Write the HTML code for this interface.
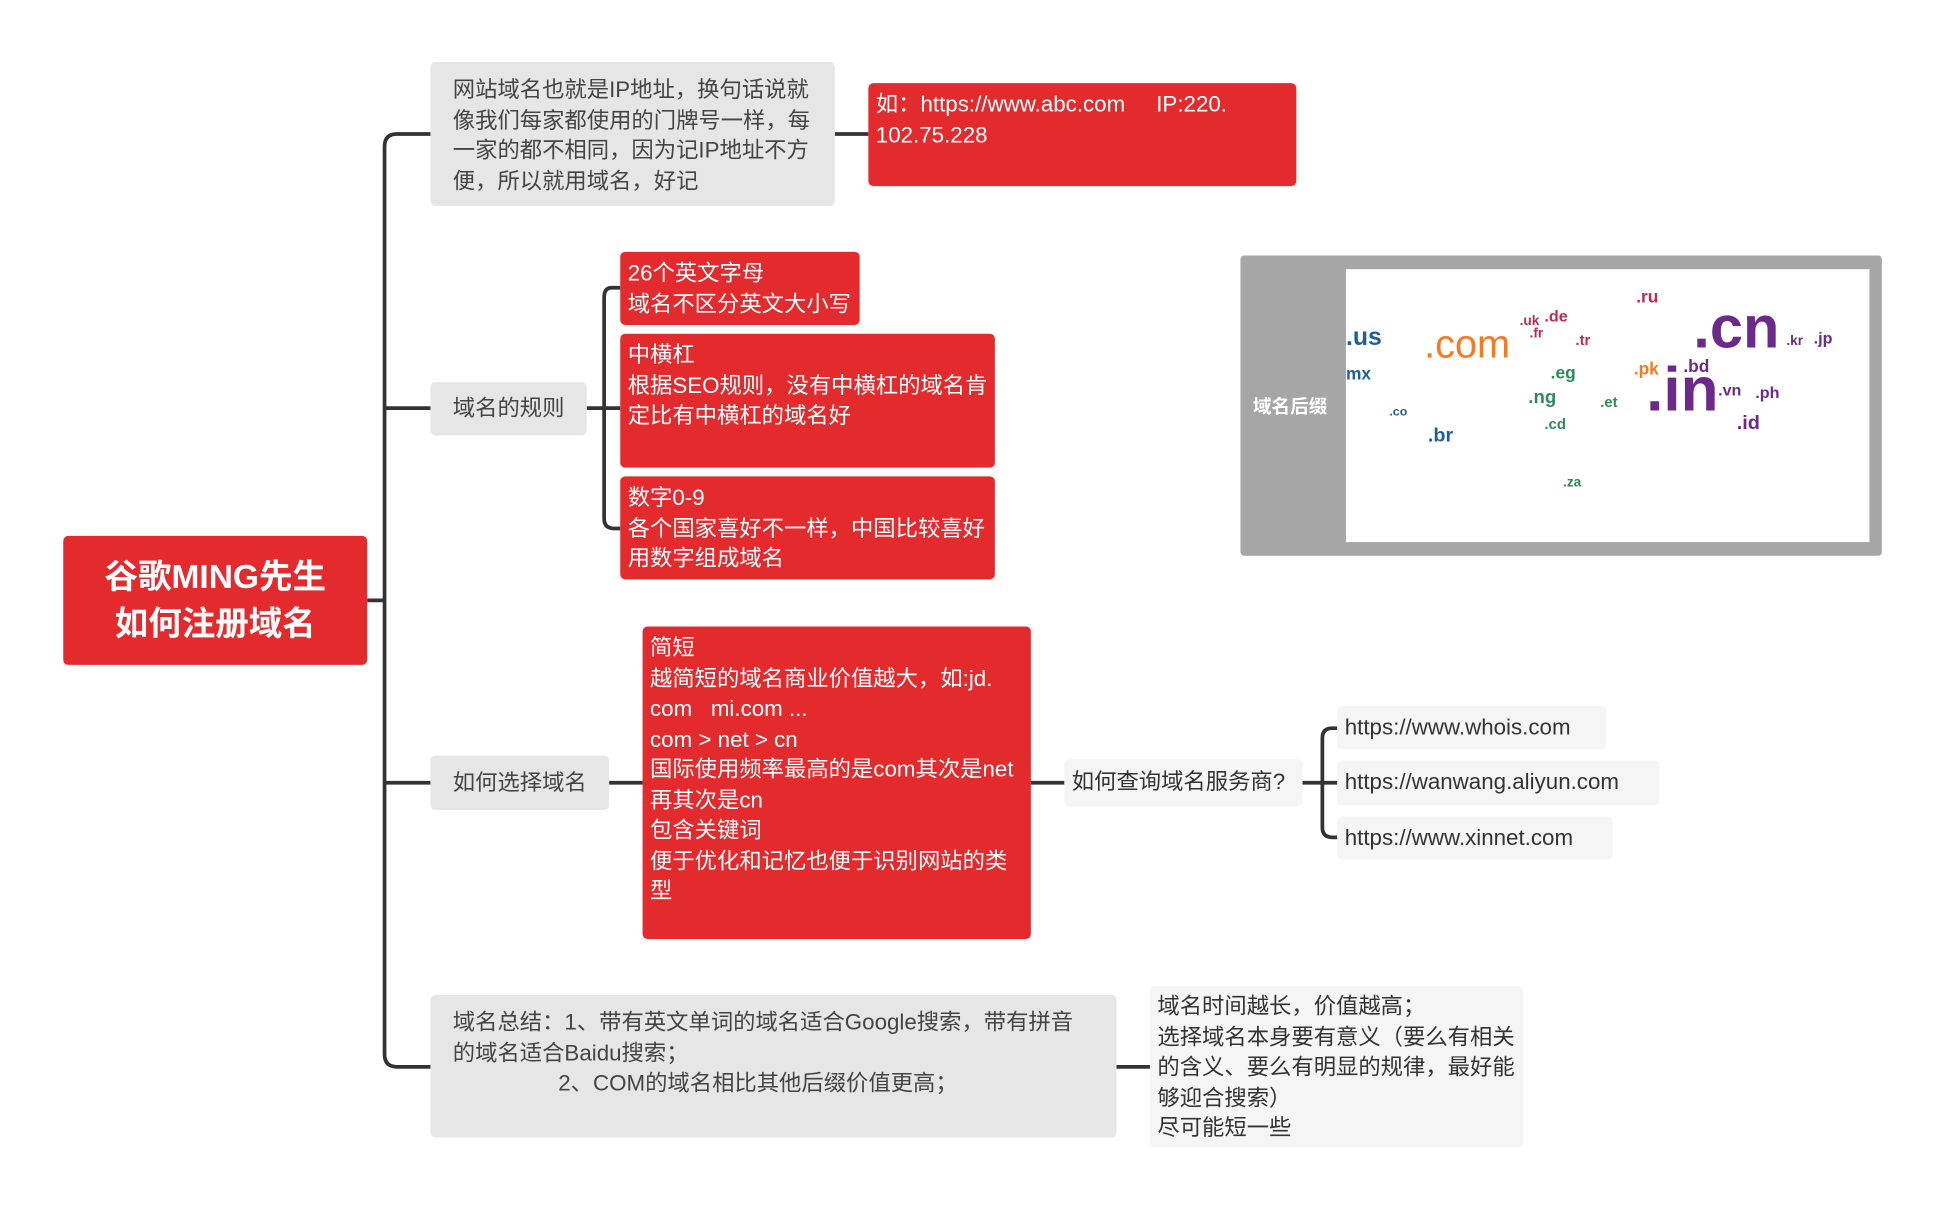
<!DOCTYPE html>
<html><head><meta charset="utf-8"><style>
html,body{margin:0;padding:0;background:#fff;width:1943px;height:1211px;overflow:hidden}
#w{position:absolute;left:0;top:0;width:1560px;height:972px;transform:scale(1.2405);transform-origin:0 0;font-family:"Liberation Sans","Noto Sans CJK SC",sans-serif}
.n{position:absolute;box-sizing:border-box;border-radius:4px;font-size:18px;line-height:24.5px}
.g{background:#e6e6e6;color:#444}
.l{background:#f5f5f5;color:#333}
.r{background:#e32b2e;color:#fff}
.m{position:absolute;font-weight:bold;font-family:"Liberation Sans",sans-serif}
</style></head><body><div id="w">
<svg width="1560" height="972" style="position:absolute;left:0;top:0">
<g fill="none" stroke="#333" stroke-width="3">
<path d="M296 484H310"/>
<path d="M347 108H320Q310 108 310 118V850Q310 860 320 860H347"/>
<path d="M310 329H347M310 631H347"/>
<path d="M673 108H700"/>
<path d="M473 329H487"/>
<path d="M500 232H493Q487 232 487 240V418Q487 426 495 426H500M487 329H500"/>
<path d="M491 631H518M831 631H858M1050 631H1078"/>
<path d="M1078 587H1074Q1066 587 1066 595V667Q1066 675 1074 675H1078"/>
<path d="M900 860H927"/>
</g></svg>
<div class="n r" style="left:51px;top:432px;width:245px;height:104px;font-size:27px;font-weight:bold;line-height:38px;text-align:center;padding-top:14px">谷歌MING先生<br>如何注册域名</div>
<div class="n g" style="left:347px;top:50px;width:326px;height:116px;padding:10px 16px 0 18px">网站域名也就是IP地址，换句话说就像我们每家都使用的门牌号一样，每一家的都不相同，因为记IP地址不方便，所以就用域名，好记</div>
<div class="n r" style="left:700px;top:67px;width:345px;height:83px;padding:5px 6px">如：https://www.abc.com&nbsp;&nbsp;&nbsp;&nbsp; IP:220.<br>102.75.228</div>
<div class="n g" style="left:347px;top:308px;width:126px;height:43px;padding:9px 0 0 18px">域名的规则</div>
<div class="n r" style="left:500px;top:203px;width:193px;height:59px;padding:5px 6px">26个英文字母<br>域名不区分英文大小写</div>
<div class="n r" style="left:500px;top:269px;width:302px;height:108px;padding:5px 6px">中横杠<br>根据SEO规则，没有中横杠的域名肯定比有中横杠的域名好</div>
<div class="n r" style="left:500px;top:384px;width:302px;height:83px;padding:5px 6px">数字0-9<br>各个国家喜好不一样，中国比较喜好用数字组成域名</div>
<div style="position:absolute;left:1000px;top:206px;width:517px;height:242px;background:#a6a6a6;border-radius:3px">
<div style="position:absolute;left:10px;top:111px;color:#fff;font-weight:bold;font-size:15px">域名后缀</div>
<div style="position:absolute;left:85px;top:11px;width:422px;height:220px;background:#fff;overflow:hidden">
<span class="m" style="left:0;top:44px;color:#1f5f99;font-size:20px">.us</span>
<span class="m" style="left:0;top:76px;color:#1f5f99;font-size:14px">mx</span>
<span class="m" style="left:63px;top:42px;color:#f47b20;font-size:32px;font-weight:normal">.com</span>
<span class="m" style="left:280px;top:20px;color:#6b2a8a;font-size:48px">.cn</span>
<span class="m" style="left:242px;top:72px;color:#6b2a8a;font-size:50px;line-height:50px">.in</span>
<span class="m" style="left:234px;top:14px;color:#c0294f;font-size:14px">.ru</span>
<span class="m" style="left:160px;top:30px;color:#c0294f;font-size:13px">.de</span>
<span class="m" style="left:140px;top:36px;color:#c0294f;font-size:11px">.uk</span>
<span class="m" style="left:148px;top:46px;color:#c0294f;font-size:11px">.fr</span>
<span class="m" style="left:185px;top:50px;color:#c0294f;font-size:12px">.tr</span>
<span class="m" style="left:165px;top:75px;color:#2e8b57;font-size:14px">.eg</span>
<span class="m" style="left:147px;top:95px;color:#2e8b57;font-size:15px">.ng</span>
<span class="m" style="left:205px;top:100px;color:#2e8b57;font-size:12px">.et</span>
<span class="m" style="left:160px;top:118px;color:#2e8b57;font-size:12px">.cd</span>
<span class="m" style="left:175px;top:166px;color:#2e8b57;font-size:11px">.za</span>
<span class="m" style="left:232px;top:72px;color:#f47b20;font-size:14px">.pk</span>
<span class="m" style="left:272px;top:70px;color:#6b2a8a;font-size:14px">.bd</span>
<span class="m" style="left:300px;top:90px;color:#6b2a8a;font-size:13px">.vn</span>
<span class="m" style="left:330px;top:92px;color:#6b2a8a;font-size:13px">.ph</span>
<span class="m" style="left:315px;top:116px;color:#6b2a8a;font-size:16px">.id</span>
<span class="m" style="left:355px;top:52px;color:#6b2a8a;font-size:11px">.kr</span>
<span class="m" style="left:377px;top:48px;color:#6b2a8a;font-size:13px">.jp</span>
<span class="m" style="left:66px;top:126px;color:#1f5f99;font-size:16px">.br</span>
<span class="m" style="left:35px;top:110px;color:#1f5f99;font-size:10px">.co</span>
</div></div>
<div class="n g" style="left:347px;top:609px;width:144px;height:44px;padding:10px 0 0 18px">如何选择域名</div>
<div class="n r" style="left:518px;top:505px;width:313px;height:252px;padding:5px 6px">简短<br>越简短的域名商业价值越大，如:jd.<br>com&nbsp;&nbsp; mi.com ...<br>com &gt; net &gt; cn<br>国际使用频率最高的是com其次是net<br>再其次是cn<br>包含关键词<br>便于优化和记忆也便于识别网站的类<br>型</div>
<div class="n l" style="left:858px;top:612px;width:192px;height:38px;padding:6px 0 0 6px">如何查询域名服务商?</div>
<div class="n l" style="left:1078px;top:569px;width:217px;height:35px;padding:5px 0 0 6px">https://www.whois.com</div>
<div class="n l" style="left:1078px;top:613px;width:260px;height:36px;padding:5px 0 0 6px">https://wanwang.aliyun.com</div>
<div class="n l" style="left:1078px;top:658px;width:222px;height:35px;padding:5px 0 0 6px">https://www.xinnet.com</div>
<div class="n g" style="left:347px;top:802px;width:553px;height:115px;padding:10px 20px 0 18px">域名总结：1、带有英文单词的域名适合Google搜索，带有拼音的域名适合Baidu搜索；<br>&nbsp;&nbsp;&nbsp;&nbsp;&nbsp;&nbsp;&nbsp;&nbsp;&nbsp;&nbsp;&nbsp;&nbsp;&nbsp;&nbsp;&nbsp;&nbsp;&nbsp;2、COM的域名相比其他后缀价值更高；</div>
<div class="n l" style="left:927px;top:795px;width:301px;height:130px;padding:4px 0 0 6px">域名时间越长，价值越高；<br>选择域名本身要有意义（要么有相关的含义、要么有明显的规律，最好能够迎合搜索）<br>尽可能短一些</div>
</div></body></html>
